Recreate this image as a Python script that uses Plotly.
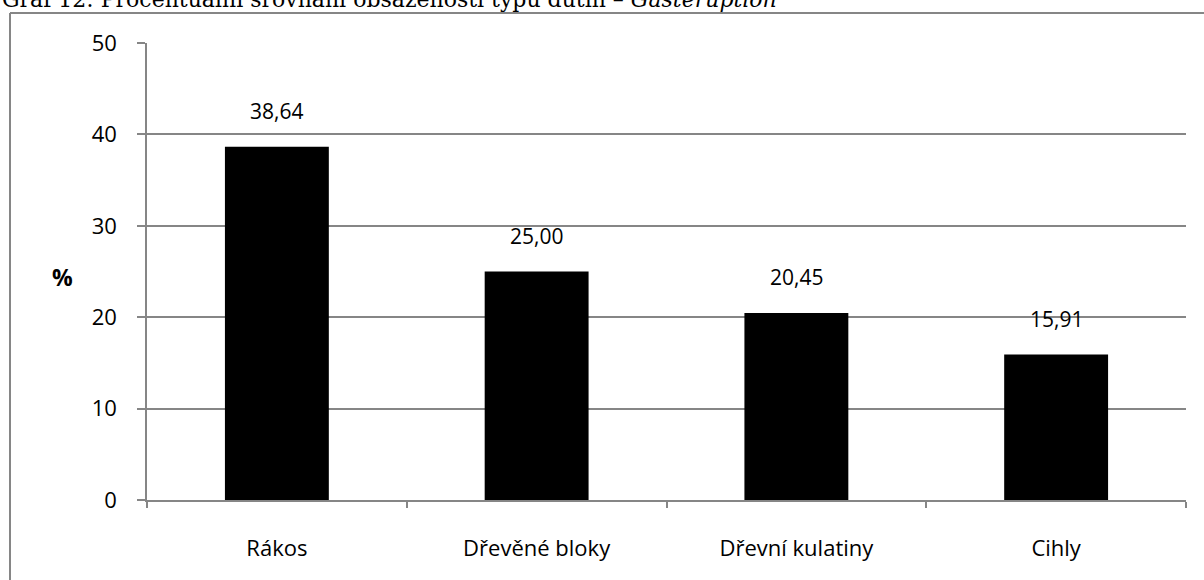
import plotly.graph_objects as go

# data
categories = ["Rákos", "Dřevěné bloky", "Dřevní kulatiny", "Cihly"]
values = [38.64, 25.00, 20.45, 15.91]
y_ticks = [0, 10, 20, 30, 40, 50]

W, H = 1204, 580
L, R, T, B = 147, 18, 43, 80
pw, ph = W - L - R, H - T - B

grey = "#868686"
label_font = "Open Sans, Liberation Sans, sans-serif"


def px_x(x):
    # pixel column -> paper x
    return (x - L) / pw


def px_y(y):
    # pixel row -> paper y
    return (H - B - y) / ph


fig = go.Figure()

fig.add_trace(
    go.Bar(
        x=categories,
        y=values,
        width=0.4,
        marker=dict(color="black", line=dict(color="black", width=0)),
        hoverinfo="x+y",
    )
)

# data labels above bars
for cat, val in zip(categories, values):
    fig.add_annotation(
        x=cat, y=val, xref="x", yref="y",
        text=f"{val:.2f}".replace(".", ","),
        showarrow=False, yanchor="bottom", yshift=20,
        font=dict(family=label_font, size=21, color="black"),
    )

# y axis label
fig.add_annotation(
    x=px_x(62), y=px_y(277), xref="paper", yref="paper",
    xanchor="center", yanchor="middle",
    text="<b>%</b>", showarrow=False,
    font=dict(family=label_font, size=23, color="black"),
)

# title, cut off at the top of the image as in the original
fig.add_annotation(
    x=px_x(0), y=px_y(14), xref="paper", yref="paper",
    xanchor="left", yanchor="bottom",
    text="Graf 12: Procentuální srovnání obsazenosti typů dutin – <i>Gasteruption</i>",
    showarrow=False,
    font=dict(family="DejaVu Serif, Liberation Serif, serif", size=22, color="black"),
)

# outer chart frame (left and top edges)
fig.add_shape(type="line", xref="paper", yref="paper",
              x0=px_x(10), x1=px_x(10), y0=px_y(H + 10), y1=px_y(13),
              line=dict(color=grey, width=2))
fig.add_shape(type="line", xref="paper", yref="paper",
              x0=px_x(10), x1=px_x(W + 10), y0=px_y(13), y1=px_y(13),
              line=dict(color=grey, width=2))

fig.update_layout(
    width=W, height=H,
    margin=dict(l=L, r=R, t=T, b=B),
    paper_bgcolor="white",
    plot_bgcolor="white",
    showlegend=False,
    xaxis=dict(
        showgrid=False,
        showline=True, linecolor=grey, linewidth=1.5,
        ticks="outside", ticklen=6, tickcolor=grey, tickwidth=1.5,
        tickson="boundaries",
        ticklabelstandoff=28,
        tickfont=dict(family=label_font, size=22, color="black"),
    ),
    yaxis=dict(
        range=[0, 50],
        tickvals=y_ticks,
        showgrid=True, gridcolor=grey, gridwidth=1.5,
        showline=True, linecolor=grey, linewidth=1.5,
        ticks="outside", ticklen=8, tickcolor=grey, tickwidth=1.5,
        ticklabelstandoff=16,
        zeroline=False,
        tickfont=dict(family=label_font, size=22, color="black"),
    ),
)

fig.write_html(
    "out.html",
    config={"displayModeBar": False},
    post_script="document.body.style.margin='0';",
)
